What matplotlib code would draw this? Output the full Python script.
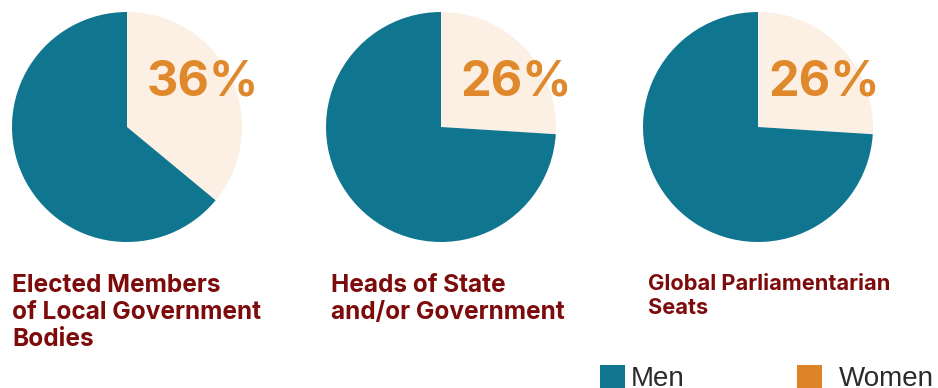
import matplotlib
matplotlib.use("Agg")
import matplotlib.pyplot as plt
from matplotlib.patches import Patch

titles = ["Elected Members\nof Local Government\nBodies",
          "Heads of State\nand/or Government",
          "Global Parliamentarian\nSeats"]
women = [36, 26, 26]
men = [64, 74, 74]
pct_labels = ["36%", "26%", "26%"]

teal = "#10768f"
cream = "#fcefe4"
orange = "#df892c"
darkred = "#7d0b0b"

W, H = 938, 388
fig = plt.figure(figsize=(W / 100, H / 100), dpi=100)

centers = [127, 441, 758]
rad = 115
pct_x = [147, 460, 768]
title_x = [12, 331, 648]
title_size = [17.6, 17.6, 15.7]

for i in range(3):
    cx = centers[i]
    ax = fig.add_axes([(cx - rad) / W, (H - 127 - rad) / H, 2 * rad / W, 2 * rad / H])
    ax.pie([women[i], men[i]], colors=[cream, teal], startangle=90,
           counterclock=False, radius=1, wedgeprops=dict(linewidth=0))
    ax.set_xlim(-1, 1)
    ax.set_ylim(-1, 1)
    ax.axis("off")
    fig.text(pct_x[i] / W, 1 - 82 / H, pct_labels[i], color=orange,
             fontsize=35, fontweight="bold", family=["Inter", "DejaVu Sans"],
             ha="left", va="center")
    fig.text(title_x[i] / W, 1 - 274 / H, titles[i], color=darkred,
             fontsize=title_size[i], fontweight="bold", family=["Inter", "DejaVu Sans"],
             ha="left", va="top", linespacing=1.22)

# legend: two separate entries, spaced like the reference
leg_font = {"family": ["Liberation Sans", "DejaVu Sans"], "size": 20}
leg1 = fig.legend(handles=[Patch(facecolor=teal, label="Men")], loc="lower left",
                  bbox_to_anchor=(575 / W, -0.075), frameon=False, prop=leg_font,
                  handlelength=0.9, handleheight=0.9, handletextpad=0.2,
                  labelcolor="#2b2b2b")
leg2 = fig.legend(handles=[Patch(facecolor="#de8428", label="Women")], loc="lower left",
                  bbox_to_anchor=(772 / W, -0.075), frameon=False, prop=leg_font,
                  handlelength=0.9, handleheight=0.9, handletextpad=0.6,
                  labelcolor="#2b2b2b")

fig.savefig("out.png", dpi=100)
